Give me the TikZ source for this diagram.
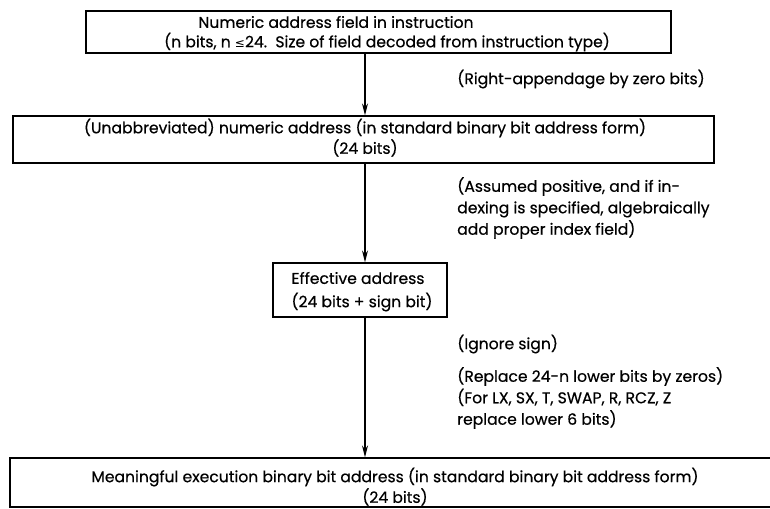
\documentclass[tikz,border=0pt]{standalone}
\usepackage{fontspec}
\setmainfont{Poppins}[FakeBold=0.5]
\newfontfamily\symfont{DejaVu Sans}
\usetikzlibrary{arrows.meta}
\begin{document}
\begin{tikzpicture}[x=0.75pt,y=-0.75pt,
  box/.style={draw,line width=0.9pt,inner sep=0pt},
  txt/.style={inner sep=0pt,font=\fontsize{11.7}{16}\selectfont},
  note/.style={inner sep=0pt,anchor=west,align=left,font=\fontsize{11.7}{16.1}\selectfont},
  flow/.style={line width=0.9pt,-{Stealth[length=9pt,width=4.5pt]}}]
\useasboundingbox (0,0) rectangle (770,508);
% boxes
\node[box,minimum width=585*0.75pt,minimum height=42*0.75pt] (b1) at (378.5,32) {};
\node[box,minimum width=701*0.75pt,minimum height=47*0.75pt] (b2) at (363.5,139.5) {};
\node[box,minimum width=174*0.75pt,minimum height=54*0.75pt] (b3) at (360,290) {};
\node[box,minimum width=800*0.75pt,minimum height=49*0.75pt] (b4) at (410,482.5) {};
% box texts
\node[txt] (t1a) at (336,22) {Numeric address field in instruction};
\node[txt] (t1b) at (387,42) {(n bits, n {\symfont\small≤}24.\ \ Size of field decoded from instruction type)};
\node[txt] (t2a) at (365,128) {(Unabbreviated) numeric address (in standard binary bit address form)};
\node[txt] (t2b) at (365,148) {(24 bits)};
\node[txt] (t3a) at (358,278) {Effective address};
\node[txt] (t3b) at (362,302) {(24 bits + sign bit)};
\node[txt] (t4a) at (395,477) {Meaningful execution binary bit address (in standard binary bit address form)};
\node[txt] (t4b) at (395,497) {(24 bits)};
% arrows
\coordinate (ax) at (365,0);
\draw[flow] (b1.south -| ax) -- (b2.north -| ax);
\draw[flow] (b2.south -| ax) -- (b3.north -| ax);
\draw[flow] (b3.south -| ax) -- (b4.north -| ax);
% notes
\node[note] (n1) at (457,79) {(Right-appendage by zero bits)};
\node[note] (n2) at (457,208) {(Assumed positive, and if in-\\dexing is specified, algebraically\\add proper index field)};
\node[note] (n3) at (457,344) {(Ignore sign)};
\node[note] (n4) at (457,398) {(Replace 24-n lower bits by zeros)\\(For LX, SX, T, SWAP, R, RCZ, Z\\replace lower 6 bits)};
\end{tikzpicture}
\end{document}
